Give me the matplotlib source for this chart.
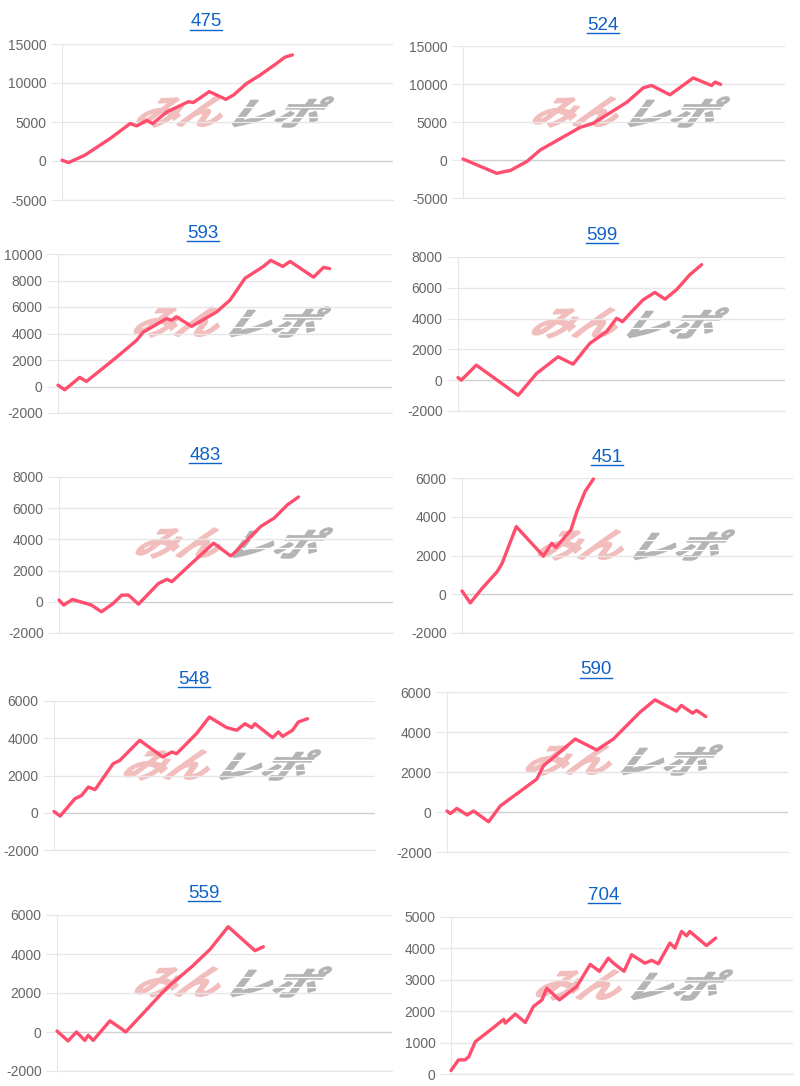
import numpy as np
import matplotlib.pyplot as plt
from matplotlib.textpath import TextPath
from matplotlib.patches import PathPatch
from matplotlib.font_manager import FontProperties
from matplotlib.transforms import Affine2D, IdentityTransform
from matplotlib.lines import Line2D

plt.rcParams['font.family'] = ['Liberation Sans', 'DejaVu Sans']

# ---- data: progress (% of x range) and balance for each machine ----
titles = ['475', '524', '593', '599', '483', '451', '548', '590', '559', '704']

x_475 = [0, 2, 7, 14.6, 20.6, 22.6, 25.6, 27.4, 31.7, 38.2, 39.7, 44.5, 49.5, 51.8, 55.8, 59.8, 64.8, 67.3, 69.6]
y_475 = [100, -200, 770, 2900, 4800, 4500, 5200, 4800, 6300, 7600, 7500, 8900, 7900, 8450, 9950, 11000, 12500, 13300, 13600]

x_524 = [0, 10.5, 13.1, 14.6, 19.9, 24, 28.6, 36.4, 40.5, 50.9, 56, 58.6, 64.3, 71.5, 77.2, 78.3, 80]
y_524 = [130, -1760, -1500, -1400, -180, 1320, 2420, 4300, 4840, 7600, 9500, 9800, 8580, 10800, 9800, 10250, 9950]

x_593 = [0, 2, 6.5, 8.5, 17.5, 23.5, 25.5, 32.5, 34, 35.5, 40, 47.5, 51.5, 56, 61.5, 63.7, 67.3, 69.5, 76.5, 79.5, 81.3]
y_593 = [100, -250, 690, 380, 2200, 3480, 4100, 5130, 5000, 5250, 4540, 5630, 6520, 8170, 9060, 9520, 9060, 9440, 8250, 8990, 8900]

x_599 = [0, 1, 5.6, 18.4, 24, 30.6, 32.7, 35.2, 40.3, 45.4, 48.5, 50.3, 53.6, 56.6, 60.2, 63.3, 66.8, 70.9, 74.5]
y_599 = [170, 0, 980, -980, 430, 1520, 1300, 1040, 2390, 3150, 4020, 3800, 4560, 5220, 5700, 5260, 5870, 6850, 7500]

x_483 = [0, 1.4, 4, 8.2, 9.7, 12.7, 16.2, 18.8, 20.8, 23.8, 29.8, 32.3, 33.8, 40.3, 46.3, 51.4, 52.4, 60.4, 64.4, 68.4, 71.7]
y_483 = [110, -210, 150, -110, -210, -640, -110, 430, 430, -150, 1180, 1440, 1290, 2580, 3760, 2940, 3110, 4830, 5360, 6220, 6720]

x_451 = [0, 2.5, 6, 10.6, 12.1, 16.4, 24.6, 27.1, 28.4, 32.9, 34.7, 37.2, 39.7]
y_451 = [170, -450, 290, 1160, 1590, 3490, 1970, 2630, 2420, 3320, 4270, 5310, 5950]

x_548 = [0, 1.9, 6.5, 8.6, 10.7, 12.8, 18.4, 20.5, 26.7, 33.9, 36.7, 38.2, 44.4, 48.4, 53.8, 56.9, 59.5, 61.6, 62.6, 68.1, 69.9, 71.2, 74.3, 76.1, 79]
y_548 = [70, -180, 750, 930, 1380, 1240, 2630, 2810, 3890, 2990, 3260, 3170, 4250, 5140, 4570, 4430, 4780, 4570, 4780, 4030, 4340, 4100, 4430, 4870, 5050]

x_590 = [0, 1, 2.9, 5.9, 7.8, 12.2, 15.6, 26.3, 28.3, 37.6, 43.9, 48.8, 56.6, 61, 67.3, 68.7, 72, 73.2, 75.9]
y_590 = [50, -80, 180, -150, 50, -490, 300, 1640, 2310, 3650, 3100, 3650, 4990, 5610, 5040, 5330, 4940, 5080, 4770]

x_559 = [0, 3.3, 5.8, 8.3, 9.3, 10.8, 15.8, 19.2, 20.5, 24.7, 31.2, 33.7, 40.2, 45.7, 51.1, 59.1, 61.6]
y_559 = [50, -460, 0, -430, -170, -430, 570, 170, 0, 770, 1970, 2400, 3340, 4240, 5400, 4170, 4370]

x_704 = [0, 2.2, 4.1, 5.2, 7.1, 9, 11.5, 15.4, 15.9, 18.8, 21.7, 24.1, 26.6, 28, 31.7, 36.8, 40.7, 43.4, 46, 47.5, 50.6, 52.8, 56.7, 58.7, 60.6, 64, 65.5, 67.4, 68.9, 69.8, 74.7, 77.4]
y_704 = [110, 450, 450, 550, 1030, 1190, 1400, 1740, 1620, 1910, 1640, 2150, 2360, 2730, 2360, 2790, 3490, 3270, 3690, 3530, 3270, 3800, 3530, 3620, 3510, 4170, 4010, 4540, 4400, 4540, 4090, 4330]

xs = [x_475, x_524, x_593, x_599, x_483, x_451, x_548, x_590, x_559, x_704]
ys = [y_475, y_524, y_593, y_599, y_483, y_451, y_548, y_590, y_559, y_704]

# y tick ranges (min, max, step)
yranges = [(-5000, 15000, 5000), (-5000, 15000, 5000), (-2000, 10000, 2000), (-2000, 8000, 2000),
           (-2000, 8000, 2000), (-2000, 6000, 2000), (-2000, 6000, 2000), (-2000, 6000, 2000),
           (-2000, 6000, 2000), (0, 5000, 1000)]

# ---- layout in image pixels: plot box (left, right, top, bottom), title, watermark centre ----
W, H = 800, 1086
boxes = [(62, 393, 44, 200), (463, 785, 46, 198), (58, 392, 254, 413), (458, 785, 257, 411),
         (59, 393, 477, 633), (462, 793, 478, 633), (54, 375, 701, 850), (447, 788, 692, 852),
         (57, 392, 915, 1071), (451, 793, 917, 1074)]
title_pos = [(206, 22), (603, 25), (203, 233), (602, 235), (205, 455), (607, 457),
             (194, 679), (596, 670), (204, 893), (604, 895)]
mark_pos = [(226, 112), (622, 112), (223, 322), (621, 323), (225, 543), (627, 545),
            (213, 765), (615, 760), (224, 982), (625, 985)]

LINE = '#ff4d6d'
GRID = '#e6e6e6'
ZERO = '#cfcfcf'

fig = plt.figure(figsize=(W / 100, H / 100), dpi=100)
fig.patch.set_facecolor('white')

cjk = FontProperties(family='Noto Sans CJK JP', weight='bold')


def glyphs(text, cx, cy, w, h, color):
    tp = TextPath((0, 0), text, size=1, prop=cjk)
    ext = tp.get_extents()
    tr = (Affine2D().translate(-ext.x0, -ext.y0)
          .scale(1 / ext.width, 1 / ext.height)
          .skew_deg(16, 0)
          .scale(w, h)
          .translate(cx, H - cy - h / 2))
    p = PathPatch(tr.transform_path(tp), facecolor=color, edgecolor=color, lw=1.1,
                  transform=IdentityTransform(), zorder=-1)
    fig.add_artist(p)


def watermark(cx, cy):
    glyphs('みん', cx - 94, cy, 82, 30, '#f2bdbd')
    glyphs('レポ', cx + 4, cy, 82, 30, '#b4b4b4')
    # speed lines cut through the grey half
    for dy in (-5, 5):
        fig.add_artist(Line2D([cx + 8, cx + 100], [H - cy + dy, H - cy + dy], color='white',
                              lw=0.9, transform=IdentityTransform(), zorder=-0.5))


titles_txt = []
for i in range(10):
    l, r, t, b = boxes[i]
    ax = fig.add_axes([l / W, 1 - b / H, (r - l) / W, (b - t) / H])
    ax.set_facecolor('none')
    lo, hi, st = yranges[i]
    ticks = np.arange(lo, hi + st, st)
    ax.set_ylim(lo, hi)
    ax.set_xlim(0, 100)
    ax.set_yticks(ticks)
    ax.set_yticklabels([str(v) for v in ticks])
    ax.set_xticks([])
    for v in ticks:
        ax.axhline(v, color=ZERO if v == 0 else GRID, lw=1.0, zorder=0)
    for s in ['top', 'right']:
        ax.spines[s].set_visible(False)
    ax.spines['left'].set_color(GRID)
    ax.spines['bottom'].set_color(GRID)
    ax.tick_params(axis='y', length=8, color=GRID, pad=3, labelsize=10, labelcolor='#666666')
    ax.plot(xs[i], ys[i], color=LINE, lw=2.4, solid_joinstyle='round', solid_capstyle='round',
            zorder=3, clip_on=False)

    watermark(*mark_pos[i])
    tx, ty = title_pos[i]
    titles_txt.append(fig.text(tx / W, 1 - ty / H, titles[i], ha='center', va='center',
                               fontsize=13.5, color='#0f62c9'))

# underline the titles like links
fig.canvas.draw()
renderer = fig.canvas.get_renderer()
for t in titles_txt:
    bb = t.get_window_extent(renderer)
    fig.add_artist(Line2D([bb.x0, bb.x1], [bb.y0 + 1, bb.y0 + 1], color='#0f62c9', lw=1.0,
                          transform=IdentityTransform()))

fig.savefig('out.png', dpi=100)
